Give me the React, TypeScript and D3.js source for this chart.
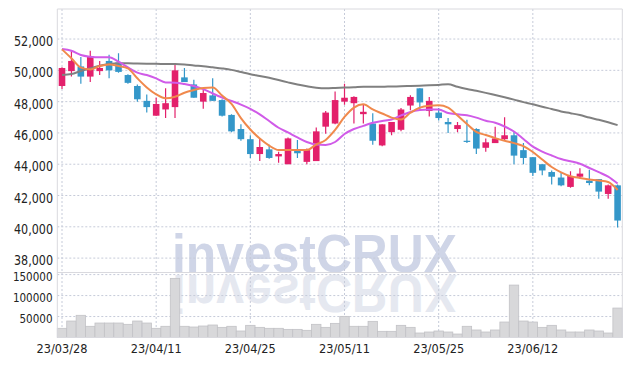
import React from "react";
import * as d3 from "d3";

const dates = [
  "23/03/28","23/03/29","23/03/30","23/03/31","23/04/03","23/04/04","23/04/05","23/04/06","23/04/07","23/04/10",
  "23/04/11","23/04/12","23/04/13","23/04/14","23/04/17","23/04/18","23/04/19","23/04/20","23/04/21","23/04/24",
  "23/04/25","23/04/26","23/04/27","23/04/28","23/05/02","23/05/03","23/05/04","23/05/08","23/05/09","23/05/10",
  "23/05/11","23/05/12","23/05/15","23/05/16","23/05/17","23/05/18","23/05/19","23/05/22","23/05/23","23/05/24",
  "23/05/25","23/05/26","23/05/30","23/05/31","23/06/01","23/06/02","23/06/05","23/06/07","23/06/08","23/06/09",
  "23/06/12","23/06/13","23/06/14","23/06/15","23/06/16","23/06/19","23/06/20","23/06/21","23/06/22","23/06/23",
];

const opens = [
  49000,49950,50250,49600,49950,50600,50500,49700,49000,48050,
  47100,47500,47650,49550,49100,48000,48400,48100,47150,46250,
  45600,44650,44950,44500,44000,44900,44150,44200,46400,46600,
  48000,47900,47200,46600,45200,46050,46200,47750,48850,47400,
  47300,46700,46250,45500,46250,45050,45350,45600,45850,44900,
  44450,44000,43500,43150,42550,43200,42950,43050,42100,42650,
];
const highs = [
  50200,51300,50850,51250,50600,51000,51100,49750,49100,48450,
  48250,48850,50350,50150,49400,48750,49500,48150,47200,46550,
  45850,45650,45250,44800,45700,45550,45000,46350,47400,48650,
  49150,48350,47800,47250,46550,46700,47600,48400,48850,48300,
  47600,46950,46700,46850,46300,45650,46400,47000,46100,45350,
  44450,44000,43600,43500,43550,43750,43650,43050,42700,42700,
];
const lows = [
  48800,49600,49150,49250,49700,49500,49850,49150,48000,47300,
  47100,46950,46950,49250,48250,47550,48050,47050,46050,45500,
  44400,44200,44350,44100,44000,44400,44000,44200,45950,46550,
  47800,46600,46600,45250,45150,45850,46100,47450,47500,47050,
  46800,46000,46050,45350,44650,44800,45350,45550,44000,44000,
  43250,43300,42700,42600,42500,43100,42650,41800,41800,39950,
];
const closes = [
  50150,50600,49600,50900,50150,50000,49900,49200,48150,47650,
  47850,47900,50000,49250,48250,48550,48050,47100,46100,45600,
  44650,45100,44400,44650,45650,44700,44900,46100,47300,48100,
  48250,48300,47350,45500,46550,46700,47500,48300,47950,48050,
  46950,46550,46500,45450,45000,45400,45650,45850,44550,44400,
  43450,43600,43200,42650,43250,43400,42800,42250,42650,40400,
];
const volumes = [
  21900,39300,52900,26700,34500,34500,34500,31400,39300,34500,
  21900,26700,141000,26700,25000,27400,29800,24200,26700,15500,
  29000,24200,21900,21900,19400,19400,17100,31400,24200,33700,
  50400,26700,26700,38500,14700,14700,29000,24200,10700,13100,
  15500,13100,8300,26700,17900,13100,17900,36900,125000,39300,
  36900,24200,29000,17900,13100,13100,17900,15500,10700,70200,
];
const ma5 = [
  51340,50770,50170,50060,50280,50380,50280,50130,49490,48910,
  48470,48210,48310,48570,48740,48870,48900,48390,47850,46950,
  46220,45640,45190,44910,44910,44910,44910,45260,45550,46190,
  47020,47620,47830,47500,47240,46980,46860,47290,47620,47740,
  47770,47620,47110,46570,46060,45870,45670,45500,45350,45160,
  44780,44300,43820,43480,43230,43120,43030,42960,42860,42350,
];
const ma10 = [
  51360,51250,50980,50870,50830,50830,50550,50190,49850,49700,
  49490,49230,49210,49120,49000,48800,48520,48260,48040,47810,
  47540,47190,46760,46330,46030,45710,45420,45260,45230,45420,
  45930,46250,46450,46650,46760,46860,47120,47340,47460,47500,
  47500,47270,47190,47130,46980,46780,46650,46410,46090,45610,
  45120,44810,44560,44330,44190,44030,43760,43490,43210,42770,
];
const ma60 = [
  49700,49760,49960,50130,50290,50400,50450,50450,50430,50420,
  50420,50400,50400,50370,50310,50260,50190,50120,50030,49890,
  49750,49640,49520,49380,49230,49090,48980,48890,48850,48870,
  48900,48920,48950,48950,48950,48970,48980,49000,49020,49040,
  49070,49110,48950,48810,48690,48560,48420,48280,48130,47970,
  47830,47670,47530,47370,47260,47140,46980,46840,46680,46500,
];

const priceTicks = [38000, 40000, 42000, 44000, 46000, 48000, 50000, 52000];
const volumeTicks = [50000, 100000, 150000];
const dateTicks = ["23/03/28", "23/04/11", "23/04/25", "23/05/11", "23/05/25", "23/06/12"];

const W = 631;
const H = 366;
const LEFT = 57.3;
const RIGHT = 622.3;
const TOP = 9;
const SPLIT = 272.5;
const BOTTOM = 337.5;

const UP = "#e3206b";
const DOWN = "#3497c9";
const GRID = "#c6cbd9";
const FRAME = "#d9d9de";
const FONT = "'DejaVu Sans Condensed', 'DejaVu Sans', sans-serif";
const WMFONT = "'Liberation Sans', Arial, sans-serif";

export default function App() {
  const x = d3.scaleBand<string>().domain(dates).range([LEFT, RIGHT]).padding(0);
  const bw = x.bandwidth();
  const cx = (i: number) => (x(dates[i]) as number) + bw / 2;
  const yP = d3.scaleLinear().domain([37080, 53920]).range([SPLIT, TOP]);
  const yV = d3.scaleLinear().domain([0, 155000]).range([BOTTOM, SPLIT]);

  const line = d3
    .line<number>()
    .x((_, i) => cx(i))
    .y((v) => yP(v))
    .curve(d3.curveMonotoneX);

  const bodyW = bw * 0.7;
  const wmY = 271.5;

  return (
    <svg
      width={W}
      height={H}
      style={{ position: "absolute", left: 0, top: 0, background: "#fff" }}
    >
      <defs>
        <clipPath id="plotClip">
          <rect x={LEFT} y={TOP} width={RIGHT - LEFT} height={BOTTOM - TOP} />
        </clipPath>
      </defs>
      <rect x={0} y={0} width={W} height={H} fill="#fff" />

      {/* watermark and its reflection */}
      <text
        x={172}
        y={wmY}
        fontFamily={WMFONT}
        fontWeight="bold"
        fontSize={54}
        textLength={285}
        lengthAdjust="spacingAndGlyphs"
        fill="#cfd5e7"
      >
        investCRUX
      </text>
      <g transform={`translate(0, ${2 * wmY + 3}) scale(1,-1)`}>
        <text
          x={172}
          y={wmY}
          fontFamily={WMFONT}
          fontWeight="bold"
          fontSize={54}
          textLength={285}
          lengthAdjust="spacingAndGlyphs"
          fill="#e5e8f0"
        >
          investCRUX
        </text>
      </g>

      {/* grid */}
      {priceTicks.map((t) => (
        <line key={"pg" + t} x1={LEFT} x2={RIGHT} y1={yP(t)} y2={yP(t)} stroke={GRID} strokeDasharray="2,2" />
      ))}
      {volumeTicks.map((t) => (
        <line key={"vg" + t} x1={LEFT} x2={RIGHT} y1={yV(t)} y2={yV(t)} stroke={GRID} strokeDasharray="2,2" />
      ))}
      {dateTicks.map((d) => (
        <line
          key={"xg" + d}
          x1={cx(dates.indexOf(d))}
          x2={cx(dates.indexOf(d))}
          y1={TOP}
          y2={BOTTOM}
          stroke={GRID}
          strokeDasharray="2,2"
        />
      ))}

      {/* volume bars */}
      {volumes.map((v, i) => (
        <rect
          key={"v" + i}
          x={x(dates[i]) as number}
          y={yV(v)}
          width={bw}
          height={yV(0) - yV(v)}
          fill="#d8d8da"
          stroke="#c2c2c6"
          strokeWidth={0.8}
        />
      ))}

      {/* candles and moving averages */}
      <g clipPath="url(#plotClip)">
        {dates.map((d, i) => {
          const up = closes[i] >= opens[i];
          const c = up ? UP : DOWN;
          const top = yP(Math.max(opens[i], closes[i]));
          const bot = yP(Math.min(opens[i], closes[i]));
          return (
            <g key={"c" + i}>
              <line x1={cx(i)} x2={cx(i)} y1={yP(highs[i])} y2={yP(lows[i])} stroke={c} strokeWidth={1.2} />
              <rect x={cx(i) - bodyW / 2} y={top} width={bodyW} height={Math.max(1.2, bot - top)} fill={c} />
            </g>
          );
        })}
        <path d={line(ma60) || ""} fill="none" stroke="#808080" strokeWidth={2} />
        <path d={line(ma10) || ""} fill="none" stroke="#d05be8" strokeWidth={2} />
        <path d={line(ma5) || ""} fill="none" stroke="#f0894c" strokeWidth={2} />
      </g>

      {/* frame */}
      <line x1={LEFT} x2={RIGHT} y1={TOP} y2={TOP} stroke={FRAME} />
      <line x1={LEFT} x2={LEFT} y1={TOP} y2={BOTTOM} stroke={FRAME} />
      <line x1={RIGHT} x2={RIGHT} y1={TOP} y2={BOTTOM} stroke={FRAME} />
      <line x1={LEFT} x2={RIGHT} y1={SPLIT} y2={SPLIT} stroke={FRAME} />
      <line x1={LEFT} x2={RIGHT} y1={BOTTOM} y2={BOTTOM} stroke={FRAME} />

      {/* axis labels */}
      {priceTicks.map((t) => {
        const s = d3.format(",")(t);
        return (
          <text
            key={"pl" + t}
            x={53}
            y={yP(t) + 2}
            textAnchor="end"
            dominantBaseline="central"
            fontFamily={FONT}
            fontSize={14.5}
            textLength={s.length * 6.5}
            lengthAdjust="spacingAndGlyphs"
            fill="#222"
          >
            {s}
          </text>
        );
      })}
      {volumeTicks.map((t) => {
        const s = String(t);
        return (
          <text
            key={"vl" + t}
            x={52.5}
            y={yV(t) + 2}
            textAnchor="end"
            dominantBaseline="central"
            fontFamily={FONT}
            fontSize={13}
            textLength={s.length * 6.6}
            lengthAdjust="spacingAndGlyphs"
            fill="#222"
          >
            {s}
          </text>
        );
      })}
      {dateTicks.map((d) => (
        <text
          key={"xl" + d}
          x={cx(dates.indexOf(d))}
          y={348.5}
          textAnchor="middle"
          dominantBaseline="central"
          fontFamily={FONT}
          fontSize={12.5}
          textLength={51}
          lengthAdjust="spacingAndGlyphs"
          fill="#222"
        >
          {d}
        </text>
      ))}
    </svg>
  );
}
